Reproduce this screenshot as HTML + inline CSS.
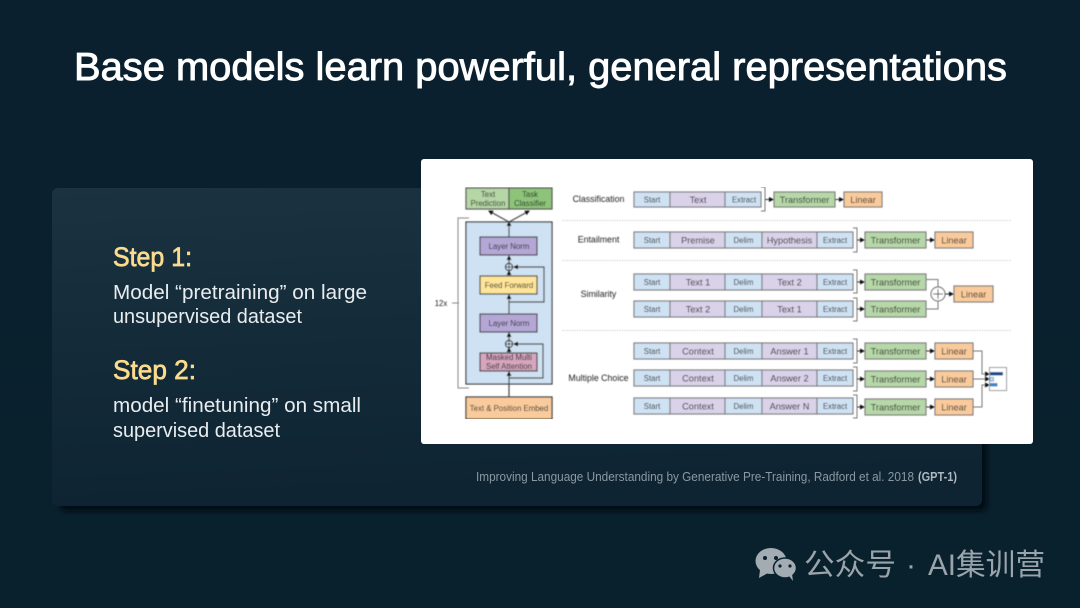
<!DOCTYPE html>
<html><head><meta charset="utf-8">
<style>
html,body{margin:0;padding:0;background:#0a1f2c}
svg{display:block}
text{font-family:"Liberation Sans","Noto Sans CJK SC",sans-serif}
</style></head>
<body>
<svg width="1080" height="608" viewBox="0 0 1080 608" xmlns="http://www.w3.org/2000/svg">
<defs>
<linearGradient id="bg" x1="0" y1="0" x2="0" y2="1"><stop offset="0" stop-color="#0a202e"/><stop offset="1" stop-color="#09202d"/></linearGradient>
<linearGradient id="panel" x1="0" y1="0" x2="0.12" y2="1"><stop offset="0" stop-color="#1b3341"/><stop offset="0.55" stop-color="#132a38"/><stop offset="1" stop-color="#0e2432"/></linearGradient>
<filter id="sh" x="-5%" y="-5%" width="110%" height="110%"><feGaussianBlur stdDeviation="2"/></filter>
<filter id="soft" x="0" y="0" width="100%" height="100%"><feGaussianBlur stdDeviation="0.4"/></filter>
<marker id="a" markerWidth="5" markerHeight="5" refX="4" refY="2.5" orient="auto" markerUnits="userSpaceOnUse"><path d="M0 0L5 2.5L0 5Z" fill="#111"/></marker>
</defs>
<rect width="1080" height="608" fill="url(#bg)"/>
<rect x="60" y="196" width="927" height="315" rx="6" fill="#030f17" filter="url(#sh)"/>
<rect x="52" y="188" width="930" height="318" rx="6" fill="url(#panel)"/>

<text x="74" y="80" font-size="39" fill="#fff" stroke="#fff" stroke-width="0.9" textLength="933" lengthAdjust="spacingAndGlyphs">Base models learn powerful, general representations</text>

<text x="113" y="266" font-size="27" fill="#fbdc8e" stroke="#fbdc8e" stroke-width="0.7" textLength="79" lengthAdjust="spacingAndGlyphs">Step 1:</text>
<text x="113" y="299" font-size="20" fill="#e9edf0" textLength="254" lengthAdjust="spacingAndGlyphs">Model “pretraining” on large</text>
<text x="113" y="323" font-size="20" fill="#e9edf0" textLength="189" lengthAdjust="spacingAndGlyphs">unsupervised dataset</text>
<text x="113" y="379" font-size="27" fill="#fbdc8e" stroke="#fbdc8e" stroke-width="0.7" textLength="83" lengthAdjust="spacingAndGlyphs">Step 2:</text>
<text x="113" y="412" font-size="20" fill="#e9edf0" textLength="248" lengthAdjust="spacingAndGlyphs">model “finetuning” on small</text>
<text x="113" y="437" font-size="20" fill="#e9edf0" textLength="167" lengthAdjust="spacingAndGlyphs">supervised dataset</text>

<text x="476" y="481" font-size="13" fill="#8b98a1" textLength="438" lengthAdjust="spacingAndGlyphs">Improving Language Understanding by Generative Pre-Training, Radford et al. 2018</text>
<text x="918" y="481" font-size="13" font-weight="700" fill="#aeb8be" textLength="39" lengthAdjust="spacingAndGlyphs">(GPT-1)</text>

<rect x="421" y="159" width="612" height="285" rx="3" fill="#fff"/>

<g filter="url(#soft)">
<!-- left stack -->
<g stroke="#555" stroke-width="1.2">
<rect x="466" y="188" width="43" height="21" fill="#b5d6a5"/>
<rect x="509" y="188" width="43" height="21" fill="#8dc47a"/>
<rect x="466" y="222" width="86" height="162" fill="#cfe2f3" stroke="#333"/>
<rect x="480" y="237" width="57" height="18" fill="#b4a7d6" stroke="#444"/>
<rect x="480" y="276" width="57" height="18" fill="#ffe599" stroke="#444"/>
<rect x="480" y="314" width="57" height="18" fill="#b4a7d6" stroke="#444"/>
<rect x="480" y="353" width="57" height="18" fill="#d5a6bd" stroke="#444"/>
<rect x="466" y="397" width="86" height="22" fill="#f9cb9c" stroke="#333"/>
</g>
<g fill="none" stroke="#444" stroke-width="1.2">
<path d="M509 397V372" marker-end="url(#a)"/>
<path d="M509 353V348" marker-end="url(#a)"/>
<path d="M509 340V333" marker-end="url(#a)"/>
<path d="M509 314V295" marker-end="url(#a)"/>
<path d="M509 276V271" marker-end="url(#a)"/>
<path d="M509 263V256" marker-end="url(#a)"/>
<path d="M509 237V222" marker-end="url(#a)"/>
<path d="M509 222L489 211" marker-end="url(#a)"/>
<path d="M509 222L529 211" marker-end="url(#a)"/>
<path d="M509 378H543V344H514" marker-end="url(#a)"/>
<path d="M509 302H544V267H514" marker-end="url(#a)"/>
<circle cx="509" cy="267" r="3.6" fill="#cfe2f3"/><path d="M506 267h6M509 264v6" stroke-width="0.9"/>
<circle cx="509" cy="344" r="3.6" fill="#cfe2f3"/><path d="M506 344h6M509 341v6" stroke-width="0.9"/>
<path d="M469 218H458V388H469" stroke="#888" stroke-width="1"/>
<path d="M452 303H459" stroke="#888" stroke-width="1"/>
</g>
<g font-size="7.8" fill="#222" text-anchor="middle">
<text x="488" y="197">Text</text><text x="488" y="206">Prediction</text>
<text x="530" y="197">Task</text><text x="530" y="206">Classifier</text>
<text x="509" y="249">Layer Norm</text>
<text x="509" y="288">Feed Forward</text>
<text x="509" y="326">Layer Norm</text>
<text x="509" y="360">Masked Multi</text><text x="509" y="369">Self Attention</text>
<text x="509" y="411">Text &amp; Position Embed</text>
<text x="441" y="306">12x</text>
</g>
<g font-size="8.800" fill="#222" text-anchor="middle">
<text x="598.500" y="202">Classification</text>
<text x="598.500" y="242.500">Entailment</text>
<text x="598.500" y="297">Similarity</text>
<text x="598.500" y="381">Multiple Choice</text>
</g>
<g stroke="#bbb" stroke-width="1" stroke-dasharray="1 1.500">
<path d="M562 220.500H1012M562 260.500H1012M562 330.500H1012"/>
</g>

<!-- rows -->
<g stroke="#777" stroke-width="1.1">
<rect x="634" y="192" width="36" height="15" fill="#cfe2f3"/><rect x="670" y="192" width="55" height="15" fill="#d9d2e9"/><rect x="725" y="192" width="36" height="15" fill="#cfe2f3"/>
<rect x="634" y="232" width="36" height="16" fill="#cfe2f3"/><rect x="670" y="232" width="55" height="16" fill="#d9d2e9"/><rect x="725" y="232" width="37" height="16" fill="#cfe2f3"/><rect x="762" y="232" width="55" height="16" fill="#d9d2e9"/><rect x="817" y="232" width="36" height="16" fill="#cfe2f3"/>
<rect x="634" y="274" width="36" height="16" fill="#cfe2f3"/><rect x="670" y="274" width="55" height="16" fill="#d9d2e9"/><rect x="725" y="274" width="37" height="16" fill="#cfe2f3"/><rect x="762" y="274" width="55" height="16" fill="#d9d2e9"/><rect x="817" y="274" width="36" height="16" fill="#cfe2f3"/>
<rect x="634" y="301" width="36" height="16" fill="#cfe2f3"/><rect x="670" y="301" width="55" height="16" fill="#d9d2e9"/><rect x="725" y="301" width="37" height="16" fill="#cfe2f3"/><rect x="762" y="301" width="55" height="16" fill="#d9d2e9"/><rect x="817" y="301" width="36" height="16" fill="#cfe2f3"/>
<rect x="634" y="343" width="36" height="16" fill="#cfe2f3"/><rect x="670" y="343" width="55" height="16" fill="#d9d2e9"/><rect x="725" y="343" width="37" height="16" fill="#cfe2f3"/><rect x="762" y="343" width="55" height="16" fill="#d9d2e9"/><rect x="817" y="343" width="36" height="16" fill="#cfe2f3"/>
<rect x="634" y="370" width="36" height="16" fill="#cfe2f3"/><rect x="670" y="370" width="55" height="16" fill="#d9d2e9"/><rect x="725" y="370" width="37" height="16" fill="#cfe2f3"/><rect x="762" y="370" width="55" height="16" fill="#d9d2e9"/><rect x="817" y="370" width="36" height="16" fill="#cfe2f3"/>
<rect x="634" y="398" width="36" height="16" fill="#cfe2f3"/><rect x="670" y="398" width="55" height="16" fill="#d9d2e9"/><rect x="725" y="398" width="37" height="16" fill="#cfe2f3"/><rect x="762" y="398" width="55" height="16" fill="#d9d2e9"/><rect x="817" y="398" width="36" height="16" fill="#cfe2f3"/>
<!-- transformers -->
<g fill="#b6d7a8">
<rect x="774" y="192" width="61" height="15"/><rect x="865" y="232" width="61" height="16"/><rect x="865" y="274" width="61" height="16"/><rect x="865" y="301" width="61" height="16"/><rect x="865" y="343" width="61" height="16"/><rect x="865" y="371" width="61" height="16"/><rect x="865" y="399" width="61" height="16"/>
</g>
<g fill="#f9cb9c">
<rect x="844" y="192" width="38" height="15"/><rect x="935" y="232" width="38" height="16"/><rect x="954" y="286" width="39" height="16"/><rect x="935" y="343" width="38" height="16"/><rect x="935" y="371" width="38" height="16"/><rect x="935" y="399" width="38" height="16"/>
</g>
</g>
<!-- brackets and arrows -->
<g fill="none" stroke="#777" stroke-width="1">
<path d="M761 187H765V211H761"/>
<path d="M853 228H857V252H853"/><path d="M853 270H857V293H853"/><path d="M853 298H857V321H853"/>
<path d="M853 339H857V363H853"/><path d="M853 367H857V391H853"/><path d="M853 395H857V418H853"/>
<path d="M765 199.500H773" stroke="#333" marker-end="url(#a)"/><path d="M835 199.500H843" stroke="#333" marker-end="url(#a)"/>
<path d="M857 240H864" stroke="#333" marker-end="url(#a)"/><path d="M926 240H934" stroke="#333" marker-end="url(#a)"/>
<path d="M857 282H864" stroke="#333" marker-end="url(#a)"/><path d="M857 309H864" stroke="#333" marker-end="url(#a)"/>
<path d="M857 351H864" stroke="#333" marker-end="url(#a)"/><path d="M926 351H934" stroke="#333" marker-end="url(#a)"/>
<path d="M857 379H864" stroke="#333" marker-end="url(#a)"/><path d="M926 379H934" stroke="#333" marker-end="url(#a)"/>
<path d="M857 407H864" stroke="#333" marker-end="url(#a)"/><path d="M926 407H934" stroke="#333" marker-end="url(#a)"/>
<path d="M926 279.500H938V287"/><path d="M926 309H938V301"/>
<circle cx="938" cy="294" r="7" fill="#fff" stroke="#555"/><path d="M933 294h10M938 289v10" stroke="#333"/>
<path d="M945 294H953" stroke="#333" marker-end="url(#a)"/>
<path d="M973 351H982V374H989" marker-end="url(#a)"/>
<path d="M973 379H989" marker-end="url(#a)"/>
<path d="M973 407H982V385H989" marker-end="url(#a)"/>
</g>
<rect x="989.500" y="367.500" width="17" height="23" fill="#fff" stroke="#999"/>
<rect x="990" y="372" width="13" height="3.500" fill="#0b5394"/>
<rect x="990" y="377.500" width="3.500" height="3.500" fill="#cfe2f3" stroke="#3d85c6" stroke-width=".7"/>
<rect x="990" y="383" width="7.500" height="3.500" fill="#3d85c6"/>

<g font-size="7.800" fill="#222" text-anchor="middle">
<text x="652" y="202.500">Start</text><text x="652" y="243">Start</text><text x="652" y="285">Start</text><text x="652" y="312">Start</text><text x="652" y="354">Start</text><text x="652" y="381">Start</text><text x="652" y="409">Start</text>
<text x="744" y="202.500">Extract</text>
<text x="743.500" y="243">Delim</text><text x="743.500" y="285">Delim</text><text x="743.500" y="312">Delim</text><text x="743.500" y="354">Delim</text><text x="743.500" y="381">Delim</text><text x="743.500" y="409">Delim</text>
<text x="835" y="243">Extract</text><text x="835" y="285">Extract</text><text x="835" y="312">Extract</text><text x="835" y="354">Extract</text><text x="835" y="381">Extract</text><text x="835" y="409">Extract</text>
</g>
<g font-size="9.200" fill="#222" text-anchor="middle">
<text x="698" y="203">Text</text><text x="698" y="243.500">Premise</text><text x="698" y="285.500">Text 1</text><text x="698" y="312.500">Text 2</text><text x="698" y="354.500">Context</text><text x="698" y="381.500">Context</text><text x="698" y="409.500">Context</text>
<text x="789.500" y="243.500">Hypothesis</text><text x="789.500" y="285.500">Text 2</text><text x="789.500" y="312.500">Text 1</text><text x="789.500" y="354.500">Answer 1</text><text x="789.500" y="381.500">Answer 2</text><text x="789.500" y="409.500">Answer N</text>
<text x="804.500" y="203">Transformer</text>
<text x="895.500" y="243.500">Transformer</text><text x="895.500" y="285.500">Transformer</text><text x="895.500" y="312.500">Transformer</text><text x="895.500" y="354.500">Transformer</text><text x="895.500" y="382.500">Transformer</text><text x="895.500" y="410.500">Transformer</text>
<text x="863" y="203">Linear</text><text x="954" y="243.500">Linear</text><text x="973.500" y="297.500">Linear</text><text x="954" y="354.500">Linear</text><text x="954" y="382.500">Linear</text><text x="954" y="410.500">Linear</text>
</g>
</g>

<!-- watermark -->
<g fill="#a3acb3">
<ellipse cx="771" cy="561" rx="15.500" ry="13"/>
<path d="M760 570L759 578L768 573Z"/>
<ellipse cx="785" cy="568" rx="11.500" ry="10" stroke="#0a202e" stroke-width="1.500"/>
<path d="M789 576L793 581L792 574Z"/>
</g>
<circle cx="765" cy="558" r="2" fill="#0a202e"/><circle cx="776" cy="558" r="2" fill="#0a202e"/>
<circle cx="780" cy="566" r="1.600" fill="#0a202e"/><circle cx="790" cy="566" r="1.600" fill="#0a202e"/>
<text x="804" y="575" font-size="30" fill="#9aa4ab" textLength="92" lengthAdjust="spacingAndGlyphs">公众号</text>
<text x="906" y="575" font-size="30" fill="#9aa4ab">·</text>
<text x="928" y="575" font-size="30" fill="#9aa4ab" textLength="117" lengthAdjust="spacingAndGlyphs">AI集训营</text>
</svg>
</body></html>
